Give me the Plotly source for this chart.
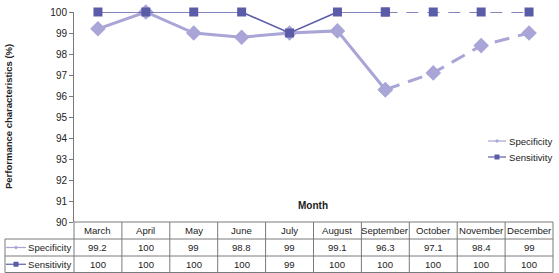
import plotly.graph_objects as go

months = ["March", "April", "May", "June", "July", "August", "September",
          "October", "November", "December"]
specificity = [99.2, 100, 99, 98.8, 99, 99.1, 96.3, 97.1, 98.4, 99]
sensitivity = [100, 100, 100, 100, 99, 100, 100, 100, 100, 100]
series_names = ["Specificity", "Sensitivity"]
y_ticks = list(range(90, 101))

SPEC_C = "#a9a5d6"
SENS_C = "#5a5ca8"
GRID_C = "#7a7a7a"
TXT_C = "#222222"
FONT = "Liberation Sans, Arial, sans-serif"

W, H = 559, 273
L, R, T, B = 74, 6, 12, 51
PW, PH = W - L - R, H - T - B

def px(xp):
    return (xp - L) / PW

def py(yp):
    return (H - B - yp) / PH

split = 6  # September index: solid before, dashed after
n = len(months)

def solid_part(vals):
    return [v if i <= split else None for i, v in enumerate(vals)]

def dashed_part(vals):
    return [v if i >= split else None for i, v in enumerate(vals)]

fig = go.Figure()
fig.add_trace(go.Scatter(x=months, y=solid_part(specificity), mode="lines+markers",
                         line=dict(color=SPEC_C, width=3),
                         marker=dict(symbol="diamond", size=12, color=SPEC_C),
                         showlegend=False, cliponaxis=False))
fig.add_trace(go.Scatter(x=months, y=dashed_part(specificity), mode="lines+markers",
                         line=dict(color=SPEC_C, width=3, dash="15px,9px"),
                         marker=dict(symbol="diamond", size=12, color=SPEC_C),
                         showlegend=False, cliponaxis=False))
fig.add_trace(go.Scatter(x=months, y=solid_part(sensitivity), mode="lines+markers",
                         line=dict(color=SENS_C, width=1.6),
                         marker=dict(symbol="square", size=9, color=SENS_C),
                         showlegend=False, cliponaxis=False))
fig.add_trace(go.Scatter(x=months, y=dashed_part(sensitivity), mode="lines+markers",
                         line=dict(color=SENS_C, width=1.3, dash="12px,9px"),
                         marker=dict(symbol="square", size=9, color=SENS_C),
                         showlegend=False, cliponaxis=False))

shapes = []
annotations = []

def hline(x0, x1, y):
    shapes.append(dict(type="line", xref="paper", yref="paper",
                       x0=px(x0), x1=px(x1), y0=py(y), y1=py(y),
                       line=dict(color=GRID_C, width=1)))

def vline_paper(xp, y0, y1):
    shapes.append(dict(type="line", xref="paper", yref="paper",
                       x0=xp, x1=xp, y0=py(y0), y1=py(y1),
                       line=dict(color=GRID_C, width=1)))

# table grid
row_y = [222, 239, 256, 272.5]
hline(L, W - R, row_y[0])
for yy in row_y[1:]:
    hline(5, W - R, yy)
vline_paper(px(5), row_y[1], row_y[3])
vline_paper(0, row_y[0], row_y[3])
for i in range(n):
    vline_paper((i + 1) / n, row_y[0], row_y[3])

# table text
text_font = dict(family=FONT, size=9.6, color=TXT_C)
row_c = [(row_y[k] + row_y[k + 1]) / 2 for k in range(3)]
for m, s, se in zip(months, specificity, sensitivity):
    for yy, t in zip(row_c, [m, f"{s:g}", f"{se:g}"]):
        annotations.append(dict(x=m, xref="x", y=py(yy), yref="paper", text=t,
                                showarrow=False, font=text_font,
                                xanchor="center", yanchor="middle"))

# row labels with legend keys
def key(xc, yc, color, symbol, seg_half, msize):
    shapes.append(dict(type="line", xref="paper", yref="paper",
                       x0=px(xc - seg_half), x1=px(xc + seg_half), y0=py(yc), y1=py(yc),
                       line=dict(color=color, width=1.2)))
    h = msize / 2
    if symbol == "square":
        shapes.append(dict(type="rect", xref="paper", yref="paper",
                           x0=px(xc - h), x1=px(xc + h), y0=py(yc + h), y1=py(yc - h),
                           fillcolor=color, line=dict(width=0)))
    else:
        path = (f"M {px(xc - h)} {py(yc)} L {px(xc)} {py(yc - h)} "
                f"L {px(xc + h)} {py(yc)} L {px(xc)} {py(yc + h)} Z")
        shapes.append(dict(type="path", xref="paper", yref="paper", path=path,
                           fillcolor=color, line=dict(width=0)))

colors = [SPEC_C, SENS_C]
symbols = ["diamond", "square"]
for k, name in enumerate(series_names):
    yc = row_c[k + 1]
    key(16, yc, colors[k], symbols[k], 10, 4 if k == 0 else 5)
    annotations.append(dict(x=px(72.5), xref="paper", y=py(yc), yref="paper", text=name,
                            showarrow=False, font=text_font,
                            xanchor="right", yanchor="middle"))

# legend inside plot
leg_y = [141, 157]
for k, name in enumerate(series_names):
    key(497, leg_y[k], colors[k], symbols[k], 9, 4 if k == 0 else 5)
    annotations.append(dict(x=px(507), xref="paper", y=py(leg_y[k]), yref="paper",
                            text=name, showarrow=False, font=text_font,
                            xanchor="left", yanchor="middle"))

# axis titles
annotations.append(dict(x=px(313), xref="paper", y=py(205), yref="paper",
                        text="<b>Month</b>", showarrow=False,
                        font=dict(family=FONT, size=10, color=TXT_C),
                        xanchor="center", yanchor="middle"))
annotations.append(dict(x=px(8), xref="paper", y=py(117), yref="paper",
                        text="<b>Performance characteristics (%)</b>", showarrow=False,
                        textangle=-90, font=dict(family=FONT, size=9.5, color=TXT_C),
                        xanchor="center", yanchor="middle"))

fig.update_layout(
    width=W, height=H,
    margin=dict(l=L, r=R, t=T, b=B, pad=0),
    paper_bgcolor="white", plot_bgcolor="white",
    font=dict(family=FONT, size=10, color=TXT_C),
    shapes=shapes, annotations=annotations,
    xaxis=dict(type="category", range=[-0.5, n - 0.5], showticklabels=False,
               showgrid=False, zeroline=False, showline=False, ticks=""),
    yaxis=dict(range=[90, 100], tickvals=y_ticks, showgrid=False, zeroline=False,
               showline=True, linecolor=GRID_C, linewidth=1, ticks="outside",
               ticklen=4, tickcolor=GRID_C, tickfont=dict(size=10, color=TXT_C)),
    showlegend=False,
)

fig.write_html("out.html")
